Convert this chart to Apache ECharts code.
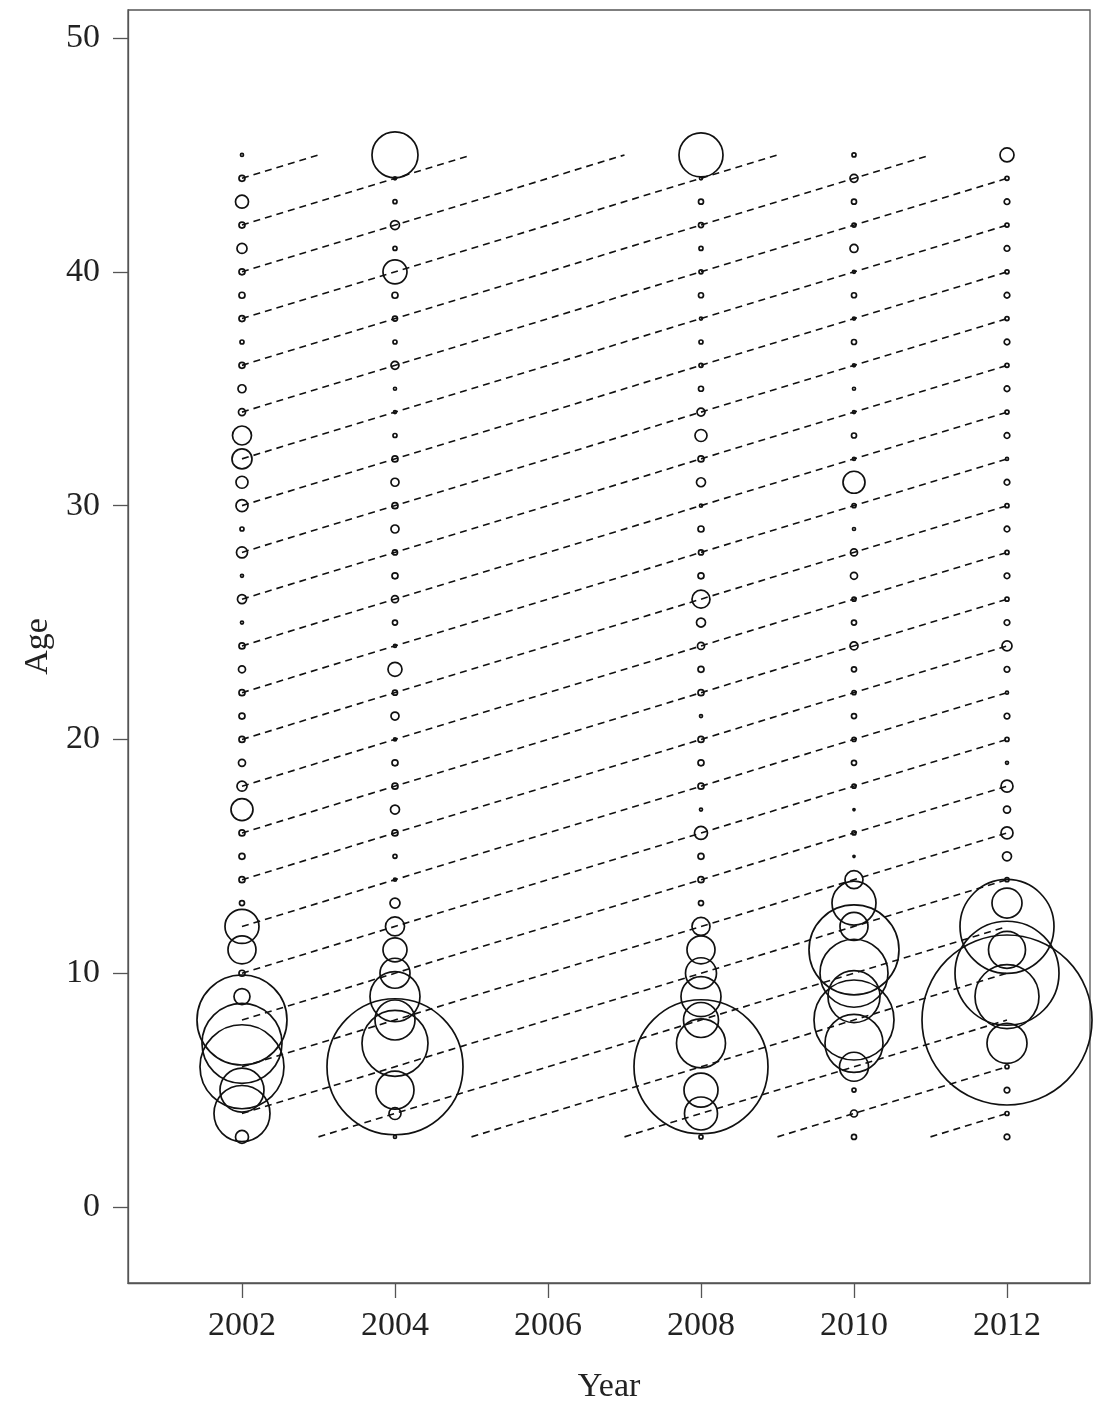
<!DOCTYPE html>
<html>
<head>
<meta charset="utf-8">
<script src="https://cdn.jsdelivr.net/npm/echarts@6/dist/echarts.min.js"></script>
<style>
html,body{margin:0;padding:0;background:#fff;}
#chart{width:1109px;height:1401px;}
</style>
</head>
<body>
<div id="chart"></div>
<script>
// ---- data ----
const years = [2002, 2004, 2008, 2010, 2012];
const ages = [3,4,5,6,7,8,9,10,11,12,13,14,15,16,17,18,19,20,21,22,23,24,25,26,27,28,29,30,31,32,33,34,35,36,37,38,39,40,41,42,43,44,45];
// bubble radius (px) per age 3..45
const r2002 = [6.5,28,22,42,40,45,8,3,14,17,2.5,3,3,3,11,5,3.5,3,3,3,3.5,3,1.5,4.5,1.5,5.5,2,6,6,10,9.5,3.5,4,3,2,3,3,3,5,3,6.5,3,1.5];
const r2004 = [1.5,6,19,68,33,20,25,15,12,9.5,5,1.5,2,3,4.5,3,3,1.5,4,2.5,7,1.5,2.5,3.5,3,2.5,4,3,4,3,2,1.5,1.5,4,2,2.5,3,12,2,4.5,2,1.5,23];
const r2008 = [2,16.5,17,67,24.5,17.5,20,15.5,14,9,2.5,3,3,6.5,1.5,3,3,3,1.5,3,3,3.5,4.5,9,3,2.5,3,1.5,4.5,3,6,4,2.5,2,2,1.5,2.5,2,2,2.5,2.5,1.5,22];
const r2010 = [2.5,3.5,2,14.5,29,40,26,34,45,14,22,9,1,2,1,2,2.5,2,2.5,2,2.5,4,2.5,2,3.5,3.5,1.5,2,11,1.5,2.5,1.5,1.5,1.5,2.5,1.5,2.5,1.5,4,2,2.5,4,2];
const r2012 = [2.8,2,2.8,2,20,85,32,52,18.5,47,15,2,4.5,6,3.5,6,1.5,2,2.8,1.5,2.8,5,2.8,2,2.8,2,2.8,2,2.8,1.5,2.8,2,2.8,2,2.8,2,2.8,2,2.8,2,2.8,2,7];
const radii = [r2002, r2004, r2008, r2010, r2012];
// cohort (birth year) guide lines
const cohorts = [1958,1960,1962,1964,1966,1968,1970,1972,1974,1976,1978,1980,1982,1984,1986,1988,1990,1992,1994,1996,1998,2000,2002,2004,2006,2008];
const firstYear = 2002, lastYear = 2012, minAge = 3, maxAge = 45;
const xTicks = [2002, 2004, 2006, 2008, 2010, 2012];
const yTicks = [0, 10, 20, 30, 40, 50];

// ---- build ----
const font = 'Liberation Serif, Times New Roman, serif';
const series = [];
cohorts.forEach(function (b) {
  const x0 = Math.max(firstYear, b + minAge);
  const x1 = Math.min(lastYear, b + maxAge);
  series.push({
    type: 'line',
    data: [[x0, x0 - b], [x1, x1 - b]],
    symbol: 'none',
    silent: true,
    lineStyle: { color: '#111', width: 1.6, type: [7, 5] },
    z: 1
  });
});
years.forEach(function (y, i) {
  series.push({
    type: 'scatter',
    data: ages.map(function (a, j) { return [y, a, radii[i][j]]; }),
    symbol: 'circle',
    symbolSize: function (v) { return 2 * v[2]; },
    itemStyle: { color: 'rgba(0,0,0,0)', borderColor: '#111', borderWidth: 1.7, opacity: 1 },
    emphasis: { disabled: true },
    silent: true,
    z: 2
  });
});

const chart = echarts.init(document.getElementById('chart'), null, { renderer: 'canvas' });
chart.setOption({
  animation: false,
  backgroundColor: '#fff',
  grid: { left: 128, top: 10, right: 19, bottom: 118, containLabel: false, outerBoundsMode: 'none', show: true, borderColor: '#555', borderWidth: 1.3, backgroundColor: 'rgba(0,0,0,0)' },
  xAxis: {
    type: 'value', min: 2000.51, max: 2013.085,
    name: 'Year', nameLocation: 'middle', nameGap: 87,
    nameTextStyle: { fontFamily: font, fontSize: 34, color: '#222' },
    axisLine: { show: true, onZero: false, lineStyle: { color: '#555', width: 1.3 } },
    axisTick: { show: true, length: 15, lineStyle: { color: '#555', width: 1.3 }, customValues: xTicks },
    axisLabel: { fontFamily: font, fontSize: 34, color: '#222', margin: 26, customValues: xTicks, formatter: function (v) { return String(v); } },
    splitLine: { show: false }
  },
  yAxis: {
    type: 'value', min: -3.25, max: 51.2,
    name: 'Age', nameLocation: 'middle', nameGap: 70, nameRotate: 90,
    nameTextStyle: { fontFamily: font, fontSize: 34, color: '#222' },
    axisLine: { show: true, onZero: false, lineStyle: { color: '#555', width: 1.3 } },
    axisTick: { show: true, length: 15, lineStyle: { color: '#555', width: 1.3 }, customValues: yTicks },
    axisLabel: { fontFamily: font, fontSize: 34, color: '#222', margin: 28, customValues: yTicks, formatter: function (v) { return String(v); } },
    splitLine: { show: false }
  },
  series: series
});
</script>
</body>
</html>
